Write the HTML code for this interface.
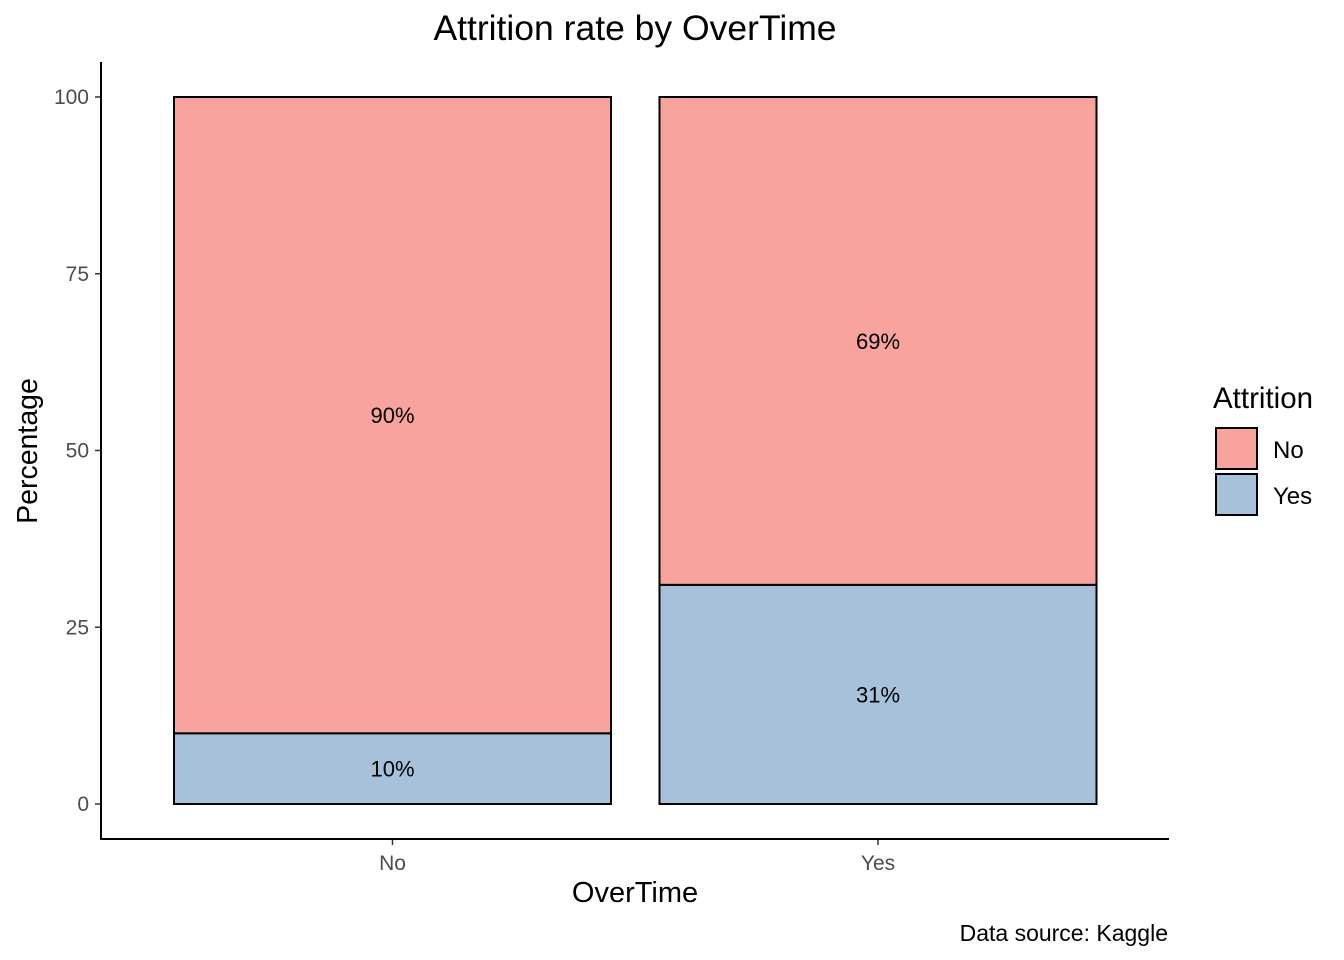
<!DOCTYPE html>
<html><head><meta charset="utf-8"><style>
body{margin:0;background:#fff;}
svg{display:block;font-family:"Liberation Sans",Arial,sans-serif;}
</style></head><body>
<svg id="chart" width="1344" height="960" viewBox="0 0 1344 960">
<text x="635" y="40" font-size="35.5" text-anchor="middle" fill="#000">Attrition rate by OverTime</text>
<g id="bars"></g>
<g id="axes"></g>
<text x="635" y="902" font-size="29" text-anchor="middle">OverTime</text>
<text transform="translate(37,451) rotate(-90)" font-size="28.5" text-anchor="middle">Percentage</text>
<text x="1168" y="941" font-size="23" text-anchor="end">Data source: Kaggle</text>
<g>
<text x="1213" y="408" font-size="29.5">Attrition</text>
<g><rect x="1216" y="428" width="41" height="41" fill="#F8A39D" stroke="#000" stroke-width="2"/><text x="1273" y="458" font-size="24">No</text></g>
<g><rect x="1216" y="474" width="41" height="41" fill="#A7C1DB" stroke="#000" stroke-width="2"/><text x="1273" y="504" font-size="24">Yes</text></g>
</g>
</svg>
<script>
const categories=["No","Yes"];
const yesValues=[10,31];
const noValues=[90,69];
const yTicks=[0,25,50,75,100];
const ns="http://www.w3.org/2000/svg";
const y=v=>804-v*7.07;
const x=i=>392.5+i*485.5;
const bw=437;
const bars=document.getElementById('bars'),axes=document.getElementById('axes');
function mk(tag,attrs,parent){const e=document.createElementNS(ns,tag);for(const k in attrs)e.setAttribute(k,attrs[k]);parent.appendChild(e);return e;}
categories.forEach((c,i)=>{
  const yv=yesValues[i],nv=noValues[i];
  const r1=mk('rect',{x:x(i)-bw/2,y:y(yv),width:bw,height:y(0)-y(yv),fill:'#A7C1DB',stroke:'#000','stroke-width':2},bars);
  
  
  const r2=mk('rect',{x:x(i)-bw/2,y:y(yv+nv),width:bw,height:y(yv)-y(yv+nv),fill:'#F8A39D',stroke:'#000','stroke-width':2},bars);
  
  
  const t1=mk('text',{x:x(i),y:y(yv/2)+8,'font-size':22,'text-anchor':'middle'},bars);t1.textContent=yv+'%';
  
  
  const t2=mk('text',{x:x(i),y:y(yv+nv/2)+8,'font-size':22,'text-anchor':'middle'},bars);t2.textContent=nv+'%';
  
  
  const tk=mk('line',{x1:x(i),x2:x(i),y1:839,y2:845,stroke:'#333','stroke-width':1.5},axes);
  
  
  const tl=mk('text',{x:x(i),y:870,'font-size':21,'text-anchor':'middle',fill:'#4d4d4d'},axes);tl.textContent=c;
  
  
});
yTicks.forEach(v=>{
  const tk=mk('line',{x1:95,x2:101,y1:y(v),y2:y(v),stroke:'#333','stroke-width':1.5},axes);
  
  
  const tl=mk('text',{x:89,y:y(v)+7,'font-size':21,'text-anchor':'end',fill:'#4d4d4d'},axes);tl.textContent=v;
  
  
});
const ya=mk('line',{x1:101,x2:101,y1:62,y2:840,stroke:'#000','stroke-width':2},axes);


const xa=mk('line',{x1:100,x2:1169,y1:839,y2:839,stroke:'#000','stroke-width':2},axes);


</script>
</body></html>
